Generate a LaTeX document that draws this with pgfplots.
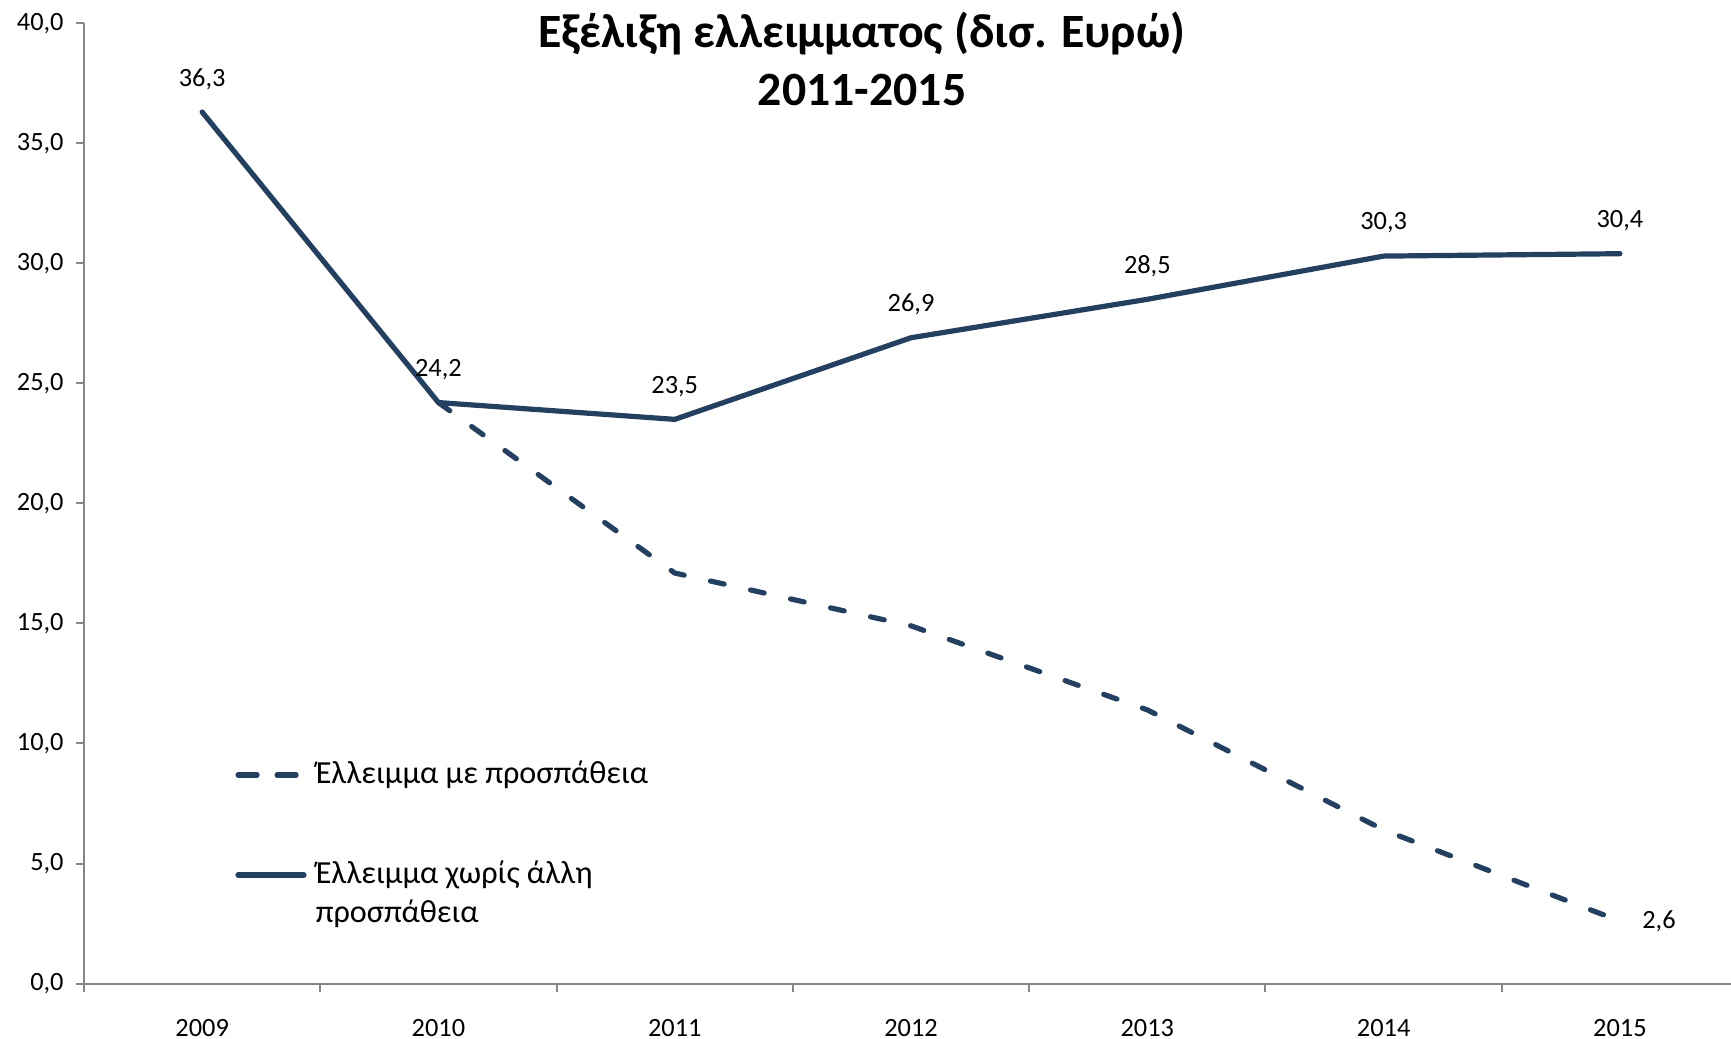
\documentclass[border=0pt]{standalone}
\usepackage{fontspec}
\setmainfont{Carlito}
\usepackage{pgfplots}
\pgfplotsset{compat=1.18}

\definecolor{navy}{RGB}{36,64,97}
\definecolor{axisgray}{RGB}{134,134,134}

\begin{document}
\begin{tikzpicture}
\begin{axis}[
    name=ax,
    scale only axis,
    width=164.7mm, height=96.04mm,
    xmin=-0.5, xmax=6.47,
    ymin=0, ymax=40,
    axis lines=left,
    axis line style={-, draw=axisgray, line width=0.2mm},
    clip=false,
    xtick={0,...,6},
    xticklabels={2009,2010,2011,2012,2013,2014,2015},
    major x tick style={draw=none},
    minor xtick={-0.5,0.5,...,5.5},
    ytick={0,5,...,40},
    tick align=outside,
    major tick length=0.8mm,
    minor tick length=0.8mm,
    tick style={draw=axisgray, line width=0.2mm},
    tick label style={font=\fontsize{7.5}{9}\selectfont},
    xticklabel style={anchor=center, yshift=-3.6mm},
    yticklabel style={anchor=east},
    /pgf/number format/.cd, fixed, fixed zerofill, precision=1, use comma, assume math mode=true,
]

% Έλλειμμα με προσπάθεια
\addplot[navy, line width=0.52mm, line cap=round, dash pattern=on 1.4mm off 2.7mm]
  coordinates {(1,24.2) (2,17.1) (3,14.9) (4,11.4) (5,6.4) (6,2.6)};

% Έλλειμμα χωρίς άλλη προσπάθεια
\addplot[navy, line width=0.52mm, line join=round, line cap=round,
  nodes near coords,
  nodes near coords style={anchor=center, yshift=3.3mm, text=black, font=\fontsize{7.5}{9}\selectfont}]
  coordinates {(0,36.3) (1,24.2) (2,23.5) (3,26.9) (4,28.5) (5,30.3) (6,30.4)};

% label of the last dashed point
\addplot[draw=none, nodes near coords,
  nodes near coords style={anchor=center, xshift=3.9mm, text=black, font=\fontsize{7.5}{9}\selectfont}]
  coordinates {(6,2.6)};

% title
\node[align=center, font=\fontsize{13.6}{16.6}\selectfont\bfseries]
  at (rel axis cs:0.4724,0.963) {Εξέλιξη ελλειμματος (δισ. Ευρώ)\\2011-2015};

% legend
\draw[navy, line width=0.52mm, line cap=round, dash pattern=on 1.9mm off 2.0mm]
  (axis cs:0.152,8.69) -- (axis cs:0.431,8.69);
\node[anchor=west, inner sep=0, font=\fontsize{9.15}{11}\selectfont]
  at (axis cs:0.478,8.69) {Έλλειμμα με προσπάθεια};
\draw[navy, line width=0.52mm, line cap=round]
  (axis cs:0.152,4.52) -- (axis cs:0.431,4.52);
\node[anchor=west, inner sep=0, font=\fontsize{9.15}{11}\selectfont]
  at (axis cs:0.478,4.52) {Έλλειμμα χωρίς άλλη};
\node[anchor=west, inner sep=0, font=\fontsize{9.15}{11}\selectfont]
  at (axis cs:0.478,2.9) {προσπάθεια};
\end{axis}
\pgfresetboundingbox
\path[use as bounding box] ([shift={(-8.4mm,-5.54mm)}]ax.south west) rectangle ++(173.1mm,103.9mm);
\end{tikzpicture}
\end{document}
